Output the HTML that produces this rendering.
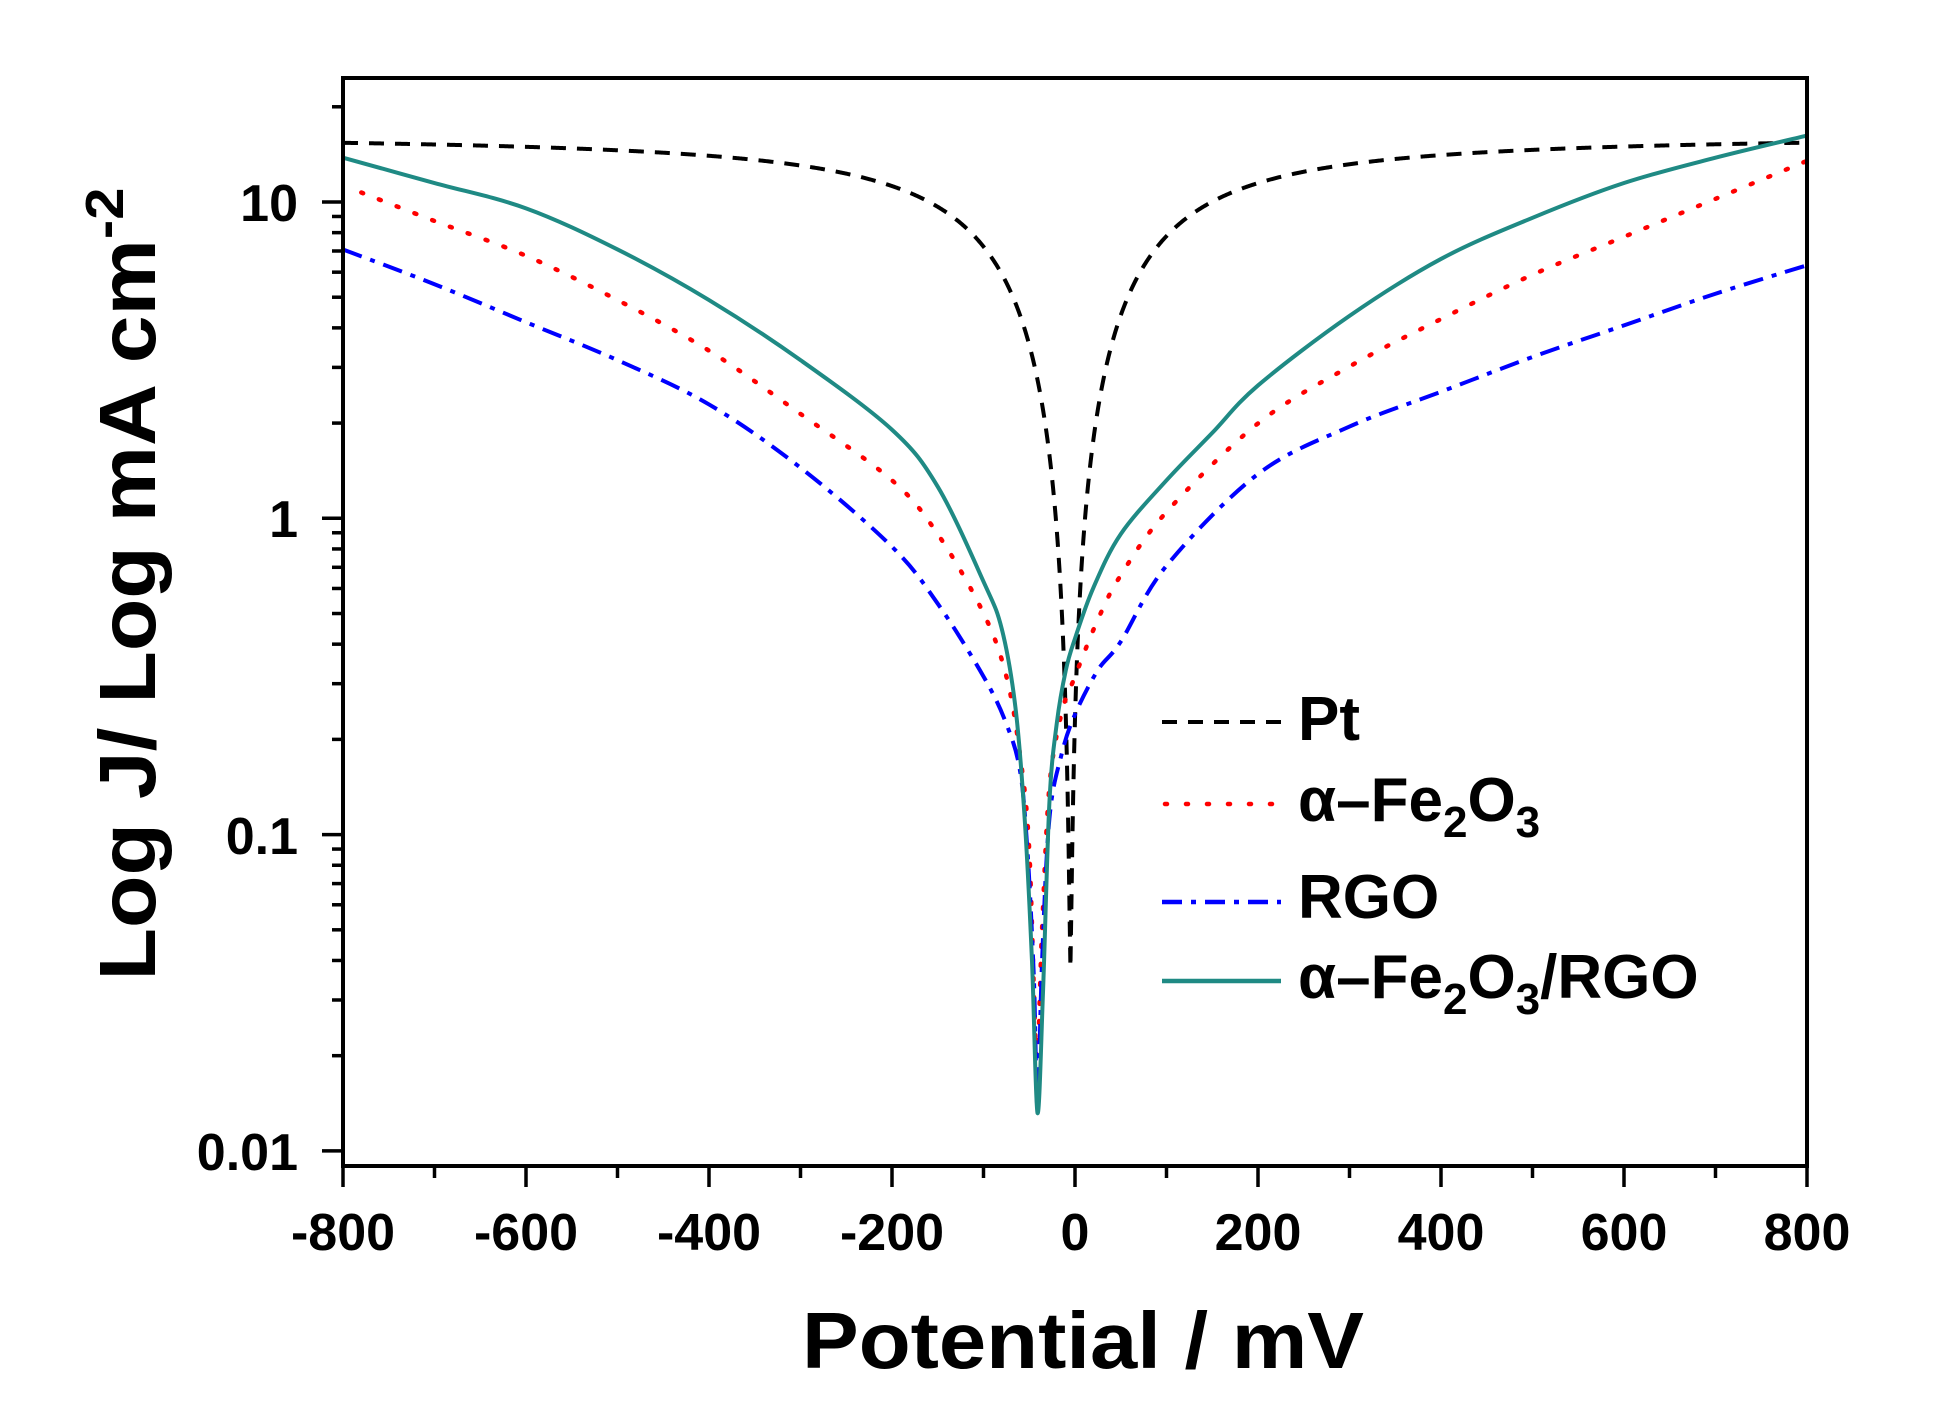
<!DOCTYPE html>
<html><head><meta charset="utf-8"><style>
html,body{margin:0;padding:0;background:#fff;}
svg{display:block;}
text{font-family:"Liberation Sans",sans-serif;font-weight:bold;fill:#000;}
</style></head><body>
<svg id="s" width="1939" height="1426" viewBox="0 0 1939 1426" xmlns="http://www.w3.org/2000/svg">
<g id="curves" fill="none" stroke-linejoin="round"></g>
<rect x="343" y="78" width="1464" height="1088" fill="none" stroke="#000" stroke-width="4"/>
<g id="ticks" stroke="#000" stroke-width="3.5"></g>
<g font-size="52" text-anchor="end">
<text x="298" y="221">10</text>
<text x="298" y="537">1</text>
<text x="298" y="854">0.1</text>
<text x="298" y="1170">0.01</text>
</g>
<g font-size="52" text-anchor="middle">
<text x="343" y="1250">-800</text>
<text x="526" y="1250">-600</text>
<text x="709" y="1250">-400</text>
<text x="892" y="1250">-200</text>
<text x="1075" y="1250">0</text>
<text x="1258" y="1250">200</text>
<text x="1441" y="1250">400</text>
<text x="1624" y="1250">600</text>
<text x="1807" y="1250">800</text>
</g>
<text x="1083" y="1368" font-size="80" text-anchor="middle" textLength="562" lengthAdjust="spacingAndGlyphs">Potential / mV</text>
<text transform="translate(155,584) rotate(-90)" font-size="80" text-anchor="middle" textLength="793" lengthAdjust="spacingAndGlyphs">Log J/ Log mA cm<tspan dy="-32" font-size="54">-2</tspan></text>
<g font-size="62">
<line x1="1162" y1="722" x2="1281" y2="722" stroke="#000" stroke-width="4" stroke-dasharray="15,11"/>
<text x="1298" y="740">Pt</text>
<line x1="1165" y1="804" x2="1281" y2="804" stroke="#f00" stroke-width="4.5" stroke-dasharray="2,19" stroke-linecap="round"/>
<text x="1298" y="821">α–Fe<tspan dy="16" font-size="44">2</tspan><tspan dy="-16">O</tspan><tspan dy="16" font-size="44">3</tspan></text>
<line x1="1162" y1="902" x2="1281" y2="902" stroke="#00f" stroke-width="4.5" stroke-dasharray="20,9,5,9"/>
<text x="1298" y="918">RGO</text>
<line x1="1162" y1="981" x2="1281" y2="981" stroke="#1f8a84" stroke-width="4.5"/>
<text x="1298" y="998">α–Fe<tspan dy="16" font-size="44">2</tspan><tspan dy="-16">O</tspan><tspan dy="16" font-size="44">3</tspan><tspan dy="-16">/RGO</tspan></text>
</g>
</svg>
<script>
var NS="http://www.w3.org/2000/svg";
function X(e){return 1075+e*(1464/1600);}
function Y(l){return 202+(1-l)*316.3;}
var tk=document.getElementById("ticks");
function ln(a,b,c,d){var l=document.createElementNS(NS,"line");l.setAttribute("x1",a);l.setAttribute("y1",b);l.setAttribute("x2",c);l.setAttribute("y2",d);tk.appendChild(l);}
for(var e=-800;e<=800;e+=100){ln(X(e),1166,X(e),e%200==0?1187:1178);}
for(var dec=-2;dec<=1;dec++){for(var m=1;m<=9;m++){var l=dec+Math.log10(m);if(Y(l)<80)continue;ln(343,Y(l),m==1?322:332,Y(l));}}
function smooth(pts){
var P=pts.map(function(p){return [X(p[0]),Y(p[1])];});
var d="M"+P[0][0]+","+P[0][1];
for(var i=0;i<P.length-1;i++){var p0=P[Math.max(0,i-1)],p1=P[i],p2=P[i+1],p3=P[Math.min(P.length-1,i+2)];
d+=" C"+(p1[0]+(p2[0]-p0[0])/6)+","+(p1[1]+(p2[1]-p0[1])/6)+" "+(p2[0]-(p3[0]-p1[0])/6)+","+(p2[1]-(p3[1]-p1[1])/6)+" "+p2[0]+","+p2[1];}
return d;}
function add(d,col,w,dash,cap){var p=document.createElementNS(NS,"path");p.setAttribute("d",d);p.setAttribute("stroke",col);p.setAttribute("stroke-width",w);if(dash)p.setAttribute("stroke-dasharray",dash);if(cap)p.setAttribute("stroke-linecap",cap);document.getElementById("curves").appendChild(p);}
var pt=[];for(var e=-800;e<=800;e+=1){var d=Math.abs(e+5);var jk=0.02*Math.pow(Math.max(d,0.01),1.42);var j=0.038+1/(1/16.3+1/jk);pt.push([e,Math.log10(j)]);}
add("M"+pt.map(function(p){return X(p[0])+","+Y(p[1]);}).join(" L"),"#000",4,"15,11");
var teal=[[-800,1.14],[-700,1.06],[-600,0.98],[-500,0.85],[-400,0.69],[-300,0.5],[-200,0.28],[-150,0.1],[-100,-0.2],[-80,-0.35],[-65,-0.6],[-55,-0.95],[-47,-1.4],[-41,-1.88],[-35,-1.5],[-28,-0.9],[-20,-0.65],[-10,-0.48],[0,-0.38],[20,-0.22],[50,-0.05],[100,0.12],[150,0.27],[200,0.42],[300,0.64],[400,0.82],[500,0.95],[600,1.06],[700,1.14],[800,1.21]];
var red=[[-780,1.03],[-700,0.94],[-600,0.83],[-500,0.69],[-400,0.53],[-300,0.33],[-200,0.12],[-150,-0.05],[-100,-0.3],[-75,-0.5],[-60,-0.75],[-50,-1.05],[-42,-1.7],[-36,-1.3],[-28,-0.85],[-15,-0.62],[0,-0.5],[25,-0.32],[50,-0.18],[100,0.02],[200,0.3],[300,0.48],[400,0.63],[500,0.77],[600,0.89],[700,1.01],[800,1.13]];
var blue=[[-800,0.85],[-700,0.74],[-600,0.62],[-500,0.5],[-400,0.36],[-300,0.16],[-200,-0.09],[-150,-0.27],[-100,-0.5],[-75,-0.65],[-60,-0.8],[-52,-1.05],[-45,-1.45],[-41,-1.86],[-36,-1.4],[-28,-0.95],[-15,-0.75],[0,-0.62],[25,-0.48],[50,-0.39],[100,-0.15],[200,0.14],[300,0.29],[400,0.4],[500,0.51],[600,0.61],[700,0.71],[800,0.8]];
add(smooth(red),"#f00",4.5,"2,17","round");
add(smooth(blue),"#00f",4,"20,9,5,9");
add(smooth(teal),"#1f8a84",4);
</script>
</body></html>
